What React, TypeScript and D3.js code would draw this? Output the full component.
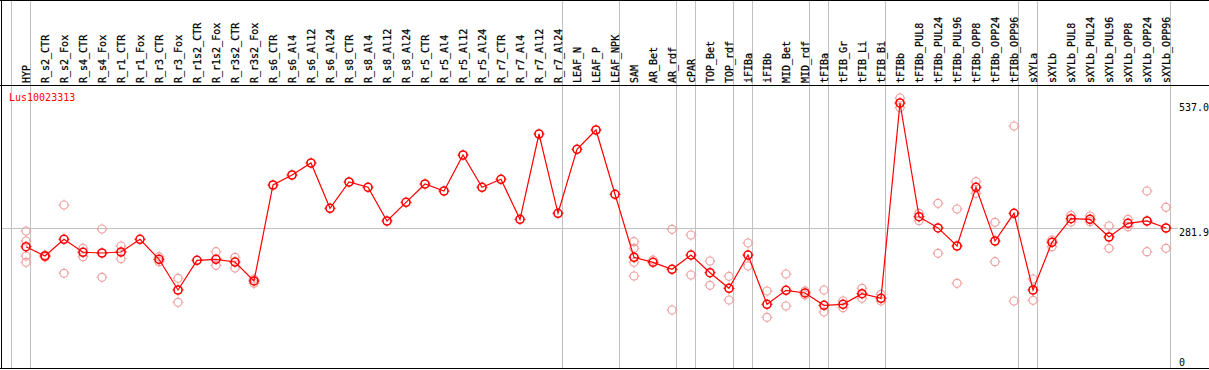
import { useRef, useEffect } from 'react';
import * as d3 from 'd3';

const samples = [
  'HYP', 'R_s2_CTR', 'R_s2_Fox', 'R_s4_CTR', 'R_s4_Fox', 'R_r1_CTR', 'R_r1_Fox', 'R_r3_CTR', 'R_r3_Fox',
  'R_r1s2_CTR', 'R_r1s2_Fox', 'R_r3s2_CTR', 'R_r3s2_Fox', 'R_s6_CTR', 'R_s6_Al4', 'R_s6_Al12', 'R_s6_Al24',
  'R_s8_CTR', 'R_s8_Al4', 'R_s8_Al12', 'R_s8_Al24', 'R_r5_CTR', 'R_r5_Al4', 'R_r5_Al12', 'R_r5_Al24',
  'R_r7_CTR', 'R_r7_Al4', 'R_r7_Al12', 'R_r7_Al24', 'LEAF_N', 'LEAF_P', 'LEAF_NPK', 'SAM', 'AR_Bet', 'AR_rdf',
  'cPAR', 'TOP_Bet', 'TOP_rdf', 'iFIBa', 'iFIBb', 'MID_Bet', 'MID_rdf', 'tFIBa', 'tFIB_Gr', 'tFIB_Li', 'tFIB_Bi',
  'tFIBb', 'tFIBb_PUL8', 'tFIBb_PUL24', 'tFIBb_PUL96', 'tFIBb_OPP8', 'tFIBb_OPP24', 'tFIBb_OPP96',
  'sXYLa', 'sXYLb', 'sXYLb_PUL8', 'sXYLb_PUL24', 'sXYLb_PUL96', 'sXYLb_OPP8', 'sXYLb_OPP24', 'sXYLb_OPP96',
];

const means = [
  243.6, 224.6, 258.7, 232.2, 230.7, 232.8, 258.7, 217.9, 155.2, 215.8, 217.9, 212.3, 173.6,
  369.6, 390.0, 414.5, 322.0, 375.7, 364.9, 296.1, 334.2, 371.6, 357.3, 430.8, 364.9, 381.2,
  299.5, 473.7, 311.8, 442.5, 481.9, 350.6, 221.9, 211.7, 197.4, 226.6, 190.5, 158.6, 226.6,
  126.0, 154.6, 149.1, 123.9, 126.0, 147.6, 138.2, 537.0, 304.8, 281.9, 245.0, 364.9, 255.2,
  311.8, 155.2, 252.6, 300.8, 299.5, 263.4, 291.4, 296.1, 281.8,
];

const replicates = [
  [275.6, 255.2, 224.6, 211.7], [226.6, 222.6], [328.7, 189.3], [240.3, 223.2], [279.7, 181.1],
  [245.0, 219.1], [], [223.2, 213.0], [179.1, 130.1], [], [233.4, 205.6], [221.9, 200.1], [168.9, 177.6],
  [], [], [], [], [], [], [], [], [], [], [], [], [], [], [], [], [], [], [],
  [253.8, 240.3, 211.7, 183.8], [216.4], [279.1, 114.3], [267.5, 185.8], [214.4, 164.8], [183.2, 134.8],
  [251.1, 204.2], [153.1, 99.4], [187.8, 122.5], [153.1, 145.0], [155.2, 110.3], [132.7, 119.0],
  [158.6, 138.2], [146.4, 132.7], [547.2, 527.4], [311.8, 296.7], [332.2, 230.1], [320.6, 168.9],
  [376.3, 352.6], [293.4, 213.0], [490.0, 132.7], [177.6, 134.1], [257.3, 243.6], [307.7, 294.0],
  [306.3, 294.6], [285.9, 240.3], [299.5, 284.4], [357.3, 233.4], [324.0, 240.3],
];

const yTicks = [0, 281.9, 537.0];
const hLines = [281.9];
const groupEnds = ['HYP', 'R_r7_Al24', 'LEAF_NPK', 'AR_rdf', 'cPAR', 'TOP_rdf', 'iFIBa', 'MID_rdf', 'tFIBa',
  'tFIB_Bi', 'tFIBb_OPP96', 'sXYLa', 'sXYLb_OPP96'];
const title = 'Lus10023313';

const font = '"DejaVu Sans Mono", monospace';

// small circle with four little ticks, like the original markers
const marker = (g, cx, cy, color, sw) => {
  g.append('circle')
    .attr('cx', cx).attr('cy', cy).attr('r', 4)
    .attr('fill', 'none').attr('stroke', color).attr('stroke-width', sw);
  [[0, -1], [0, 1], [-1, 0], [1, 0]].forEach(([dx, dy]) => {
    g.append('line')
      .attr('x1', cx + dx * 4).attr('y1', cy + dy * 4)
      .attr('x2', cx + dx * 5.5).attr('y2', cy + dy * 5.5)
      .attr('stroke', color).attr('stroke-width', 1);
  });
};

const ExpressionChart = () => {
  const ref = useRef<SVGSVGElement>(null);

  useEffect(() => {
    const svg = d3.select(ref.current);
    svg.selectAll('*').remove();

    const width = 1209;
    const height = 370;

    const x = d3.scalePoint().domain(samples).range([26, 1166]).padding(0);
    const step = x.step();
    const y = d3.scaleLinear().domain([0, 537]).range([366, 103]);

    svg.append('rect').attr('width', width).attr('height', height).attr('fill', '#fff');

    // vertical group separators
    const sepX = [x(samples[0]) - step + 4, ...groupEnds.map(s => x(s) + 4)];
    svg.selectAll('.vsep')
      .data(sepX)
      .enter().append('line')
      .attr('x1', d => Math.round(d) + 0.5).attr('x2', d => Math.round(d) + 0.5)
      .attr('y1', 0).attr('y2', 368)
      .attr('stroke', '#c0c0c0').attr('stroke-width', 1);

    // horizontal reference line
    svg.selectAll('.hline')
      .data(hLines)
      .enter().append('line')
      .attr('x1', 1).attr('x2', 1178)
      .attr('y1', d => Math.round(y(d)) + 0.5).attr('y2', d => Math.round(y(d)) + 0.5)
      .attr('stroke', '#c0c0c0').attr('stroke-width', 1);

    // frame
    svg.append('line').attr('x1', 0).attr('x2', width).attr('y1', 0.5).attr('y2', 0.5).attr('stroke', '#000');
    svg.append('line').attr('x1', 0).attr('x2', width).attr('y1', 85.5).attr('y2', 85.5).attr('stroke', '#000');
    svg.append('line').attr('x1', 0).attr('x2', width).attr('y1', 368.5).attr('y2', 368.5).attr('stroke', '#000');
    svg.append('line').attr('x1', 1.5).attr('x2', 1.5).attr('y1', 0).attr('y2', 369).attr('stroke', '#000');

    // column labels
    svg.selectAll('.lab')
      .data(samples)
      .enter().append('text')
      .attr('transform', d => `translate(${x(d) + 3.5}, 83) rotate(-90)`)
      .attr('font-family', font)
      .attr('font-size', '10px')
      .attr('fill', '#000')
      .attr('stroke', '#000')
      .attr('stroke-width', 0.25)
      .text(d => d);

    // y labels
    svg.selectAll('.ytick')
      .data(yTicks)
      .enter().append('text')
      .attr('x', 1179)
      .attr('y', d => d === 0 ? y(d) : y(d) + 8)
      .attr('font-family', font)
      .attr('font-size', '10px')
      .attr('fill', '#000')
      .text(d => d === 0 ? '0' : d3.format('.1f')(d));

    svg.append('text')
      .attr('x', 9).attr('y', 101)
      .attr('font-family', font)
      .attr('font-size', '10px')
      .attr('fill', '#ff0000')
      .text(title);

    // replicate points
    const reps = svg.append('g');
    replicates.forEach((vals, i) => {
      vals.forEach(v => marker(reps, x(samples[i]), y(v), '#f0a0a0', 1.2));
    });

    // mean line
    const line = d3.line<number>()
      .x((_, i) => x(samples[i]))
      .y(d => y(d));

    svg.append('path')
      .datum(means)
      .attr('d', line)
      .attr('fill', 'none')
      .attr('stroke', '#ff0000')
      .attr('stroke-width', 1.2);

    const pts = svg.append('g');
    means.forEach((v, i) => marker(pts, x(samples[i]), y(v), '#ff0000', 1.6));
  }, []);

  return <svg ref={ref} width={1209} height={370} style={{ position: 'absolute', left: 0, top: 0 }}></svg>;
};

export default function App() {
  return <ExpressionChart />;
}
